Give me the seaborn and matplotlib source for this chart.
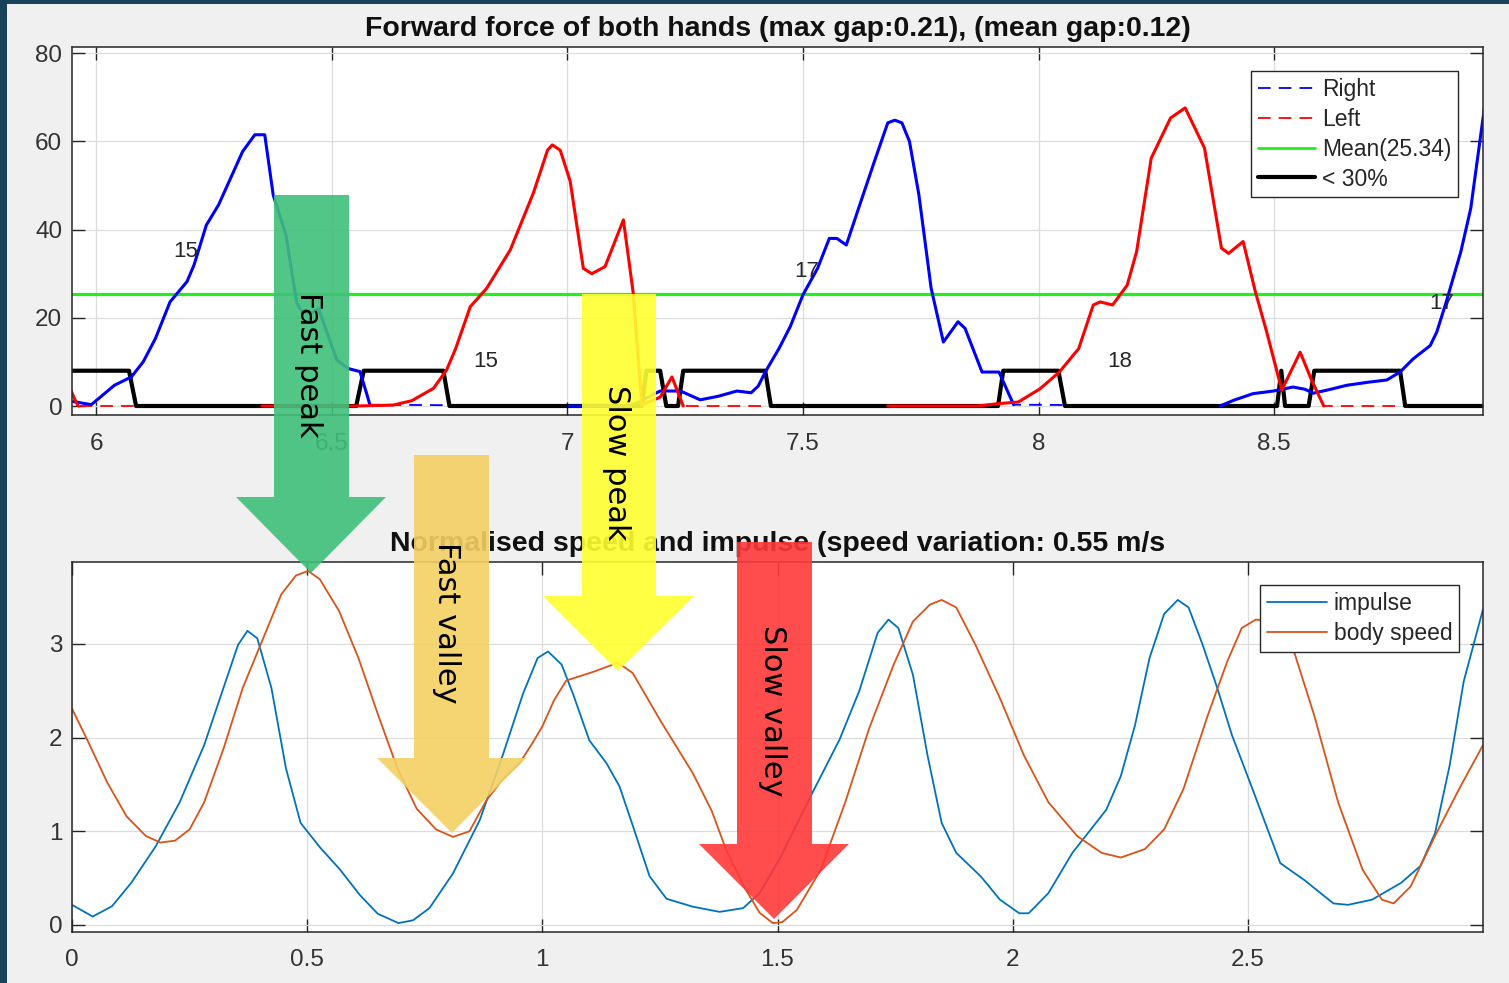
import numpy as np
import pandas as pd
import matplotlib
matplotlib.use("Agg")
import matplotlib.pyplot as plt
import seaborn as sns
from matplotlib.patches import Polygon, Rectangle
from matplotlib.lines import Line2D

# ---------------- data: top panel (forward force) ----------------
right_x1 = [5.952, 5.99, 6.039, 6.075, 6.10, 6.126, 6.157, 6.193, 6.208, 6.234, 6.26, 6.311, 6.337,
            6.358, 6.376, 6.403, 6.426, 6.437, 6.455, 6.472, 6.511, 6.535, 6.56, 6.574, 6.581]
right_y1 = [1.0, 0.3, 4.7, 6.6, 10.0, 15.3, 23.6, 28.2, 32.0, 41.0, 45.6, 57.7, 61.5,
            61.5, 47.8, 38.8, 23.3, 21.4, 21.0, 22.1, 10.4, 8.5, 7.8, 2.9, 0.3]
right_x2 = [7.004, 7.13, 7.155, 7.18, 7.197, 7.24, 7.282, 7.32, 7.36, 7.39, 7.405, 7.42, 7.449, 7.473,
            7.5, 7.531, 7.556, 7.572, 7.592, 7.623, 7.654, 7.68, 7.695, 7.71, 7.726, 7.746, 7.772,
            7.798, 7.829, 7.844, 7.88, 7.916, 7.947]
right_y2 = [0.0, 0.0, 1.0, 2.5, 3.4, 3.4, 1.4, 2.2, 3.4, 3.0, 4.5, 7.7, 13.0, 18.0,
            25.2, 31.2, 38.0, 38.0, 36.5, 46.4, 56.2, 64.2, 64.8, 64.2, 60.0, 47.9, 26.7,
            14.5, 19.1, 17.6, 7.7, 7.7, 0.3]
right_x3 = [8.385, 8.414, 8.455, 8.4985, 8.54, 8.565, 8.583, 8.62, 8.654, 8.7, 8.739, 8.767, 8.795,
            8.831, 8.845, 8.865, 8.896, 8.917, 8.946]
right_y3 = [0.0, 1.3, 2.8, 3.4, 4.3, 3.8, 2.9, 3.8, 4.7, 5.4, 5.9, 7.7, 10.7,
            13.7, 16.8, 23.6, 35.0, 44.8, 67.6]

left_x0 = [5.945, 5.955, 5.962]
left_y0 = [4.0, 1.5, 0.0]
left_x1 = [6.352, 6.45, 6.55, 6.63, 6.67, 6.716, 6.744, 6.763, 6.794, 6.829, 6.879, 6.928, 6.958,
           6.968, 6.985, 7.006, 7.034, 7.052, 7.08, 7.119, 7.14, 7.158, 7.197, 7.222, 7.246]
left_y1 = [0.0, 0.0, 0.0, 0.2, 1.2, 4.0, 8.2, 13.0, 22.5, 26.7, 35.4, 48.3, 58.0,
           59.2, 58.0, 51.0, 31.2, 30.0, 31.6, 42.2, 25.5, 0.2, 2.0, 6.6, 0.0]
left_x2 = [7.68, 7.87, 7.911, 7.957, 8.003, 8.044, 8.085, 8.116, 8.131, 8.157, 8.188, 8.208, 8.239,
           8.28, 8.311, 8.352, 8.388, 8.403, 8.434, 8.46, 8.484, 8.516, 8.555, 8.578, 8.605]
left_y2 = [0.0, 0.0, 0.5, 0.9, 3.9, 7.7, 13.0, 22.9, 23.6, 22.9, 27.4, 35.0, 56.2,
           65.3, 67.6, 58.5, 35.8, 34.6, 37.3, 25.9, 16.8, 3.6, 12.2, 6.2, 0.0]

low_x = [5.95, 6.07, 6.085, 6.552, 6.568, 6.737, 6.75, 7.158, 7.168, 7.197, 7.21, 7.235, 7.246,
         7.42, 7.432, 7.914, 7.925, 8.042, 8.056, 8.506, 8.515, 8.523, 8.573, 8.585, 8.767, 8.778, 8.943]
low_y = [8, 8, 0, 0, 8, 8, 0, 0, 8, 8, 0, 0, 8,
         8, 0, 0, 8, 8, 0, 0, 8, 0, 0, 8, 8, 0, 0]

mean_force = 25.34
stroke_counts = ["15", "15", "17", "18", "17"]
count_x = [6.19, 6.826, 7.507, 8.173, 8.855]
count_y = [35.0, 10.2, 30.4, 10.2, 23.3]

top_xticks = [6, 6.5, 7, 7.5, 8, 8.5]
top_xlabels = ["6", "6.5", "7", "7.5", "8", "8.5"]
top_yticks = [0, 20, 40, 60, 80]

# ---------------- data: bottom panel (speed / impulse) ----------------
imp_x = [0.0, 0.044, 0.085, 0.126, 0.178, 0.229, 0.281, 0.322, 0.353, 0.373, 0.394, 0.424, 0.455,
         0.486, 0.527, 0.57, 0.612, 0.65, 0.694, 0.725, 0.76, 0.81, 0.867, 0.917, 0.959, 0.99,
         1.012, 1.041, 1.065, 1.10, 1.136, 1.164, 1.193, 1.228, 1.264, 1.32, 1.377, 1.427, 1.462,
         1.504, 1.568, 1.632, 1.674, 1.713, 1.736, 1.757, 1.788, 1.819, 1.849, 1.88, 1.932, 1.973,
         2.014, 2.034, 2.076, 2.127, 2.199, 2.23, 2.26, 2.291, 2.322, 2.351, 2.374, 2.404, 2.435,
         2.466, 2.507, 2.569, 2.62, 2.682, 2.713, 2.764, 2.826, 2.867, 2.898, 2.929, 2.959, 3.0]
imp_y = [0.215, 0.09, 0.2, 0.45, 0.84, 1.31, 1.92, 2.53, 2.99, 3.14, 3.06, 2.53, 1.67,
         1.09, 0.83, 0.59, 0.32, 0.12, 0.02, 0.05, 0.18, 0.55, 1.12, 1.83, 2.47, 2.85,
         2.92, 2.78, 2.47, 1.97, 1.73, 1.48, 1.05, 0.52, 0.28, 0.195, 0.14, 0.18, 0.34,
         0.7, 1.35, 1.98, 2.5, 3.12, 3.26, 3.17, 2.67, 1.81, 1.09, 0.77, 0.52, 0.27,
         0.125, 0.125, 0.34, 0.77, 1.23, 1.59, 2.13, 2.85, 3.32, 3.47, 3.39, 2.99, 2.53,
         2.03, 1.49, 0.66, 0.48, 0.23, 0.215, 0.27, 0.45, 0.63, 0.98, 1.70, 2.6, 3.37]
spd_x = [0.0, 0.034, 0.075, 0.116, 0.157, 0.188, 0.219, 0.25, 0.281, 0.322, 0.363, 0.404, 0.445,
         0.476, 0.502, 0.527, 0.568, 0.609, 0.651, 0.692, 0.733, 0.774, 0.81, 0.845, 0.881, 0.915,
         0.952, 0.98, 1.0, 1.025, 1.051, 1.107, 1.161, 1.192, 1.22, 1.25, 1.32, 1.36, 1.391, 1.43,
         1.462, 1.49, 1.51, 1.541, 1.592, 1.644, 1.695, 1.747, 1.788, 1.824, 1.849, 1.88, 1.921,
         1.973, 2.024, 2.076, 2.137, 2.189, 2.23, 2.281, 2.322, 2.363, 2.415, 2.456, 2.487, 2.517,
         2.558, 2.6, 2.641, 2.692, 2.744, 2.785, 2.81, 2.846, 2.898, 2.949, 3.0]
spd_y = [2.31, 1.96, 1.52, 1.16, 0.95, 0.88, 0.90, 1.02, 1.31, 1.88, 2.53, 3.03, 3.53,
         3.73, 3.78, 3.69, 3.35, 2.85, 2.24, 1.67, 1.24, 1.02, 0.94, 1.0, 1.33, 1.55,
         1.73, 1.95, 2.12, 2.4, 2.61, 2.70, 2.80, 2.69, 2.45, 2.19, 1.62, 1.22, 0.8, 0.4,
         0.13, 0.02, 0.03, 0.16, 0.59, 1.31, 2.10, 2.78, 3.24, 3.42, 3.47, 3.39, 2.99,
         2.42, 1.81, 1.31, 0.95, 0.77, 0.72, 0.81, 1.02, 1.45, 2.24, 2.81, 3.17, 3.26,
         3.24, 2.89, 2.24, 1.31, 0.59, 0.27, 0.23, 0.41, 0.95, 1.45, 1.92]

bot_xticks = [0, 0.5, 1, 1.5, 2, 2.5]
bot_xlabels = ["0", "0.5", "1", "1.5", "2", "2.5"]
bot_yticks = [0, 1, 2, 3]

# annotation arrows (figure pixels): shaft l, r, top, shoulder, head l, r, tip x, tip y
arrow_specs = [
    ("Fast peak",   "#3fc07a", (274, 349, 195, 497, 236, 386, 311, 573), (309, 365)),
    ("Fast valley", "#f4d063", (414, 489, 455, 758, 377, 526, 452, 833), (447, 623)),
    ("Slow peak",   "#ffff30", (582, 656, 294, 596, 543, 694, 618, 671), (616, 463)),
    ("Slow valley", "#ff3838", (737, 812, 542, 844, 699, 849, 774, 919), (772, 711)),
]

# ---------------- figure ----------------
sns.set_theme(style="whitegrid")
plt.rcParams['font.family'] = ['Liberation Sans', 'DejaVu Sans']

W, H = 1509, 983
fig = plt.figure(figsize=(W / 100, H / 100), dpi=100)
fig.patch.set_facecolor('#17425a')
fig.add_artist(Rectangle((7 / W, 0), 1, 1 - 4 / H, transform=fig.transFigure,
                         facecolor='#f0f0f0', edgecolor='none', zorder=-10))

ax1 = fig.add_axes([72 / W, 1 - 415 / H, (1483 - 72) / W, (415 - 47) / H])
ax2 = fig.add_axes([72 / W, 1 - 932 / H, (1483 - 72) / W, (932 - 562) / H])


def style(ax, xpad):
    ax.set_facecolor('white')
    for s in ax.spines.values():
        s.set_visible(True)
        s.set_color('#262626')
        s.set_linewidth(1.1)
        s.set_zorder(6)
    ax.grid(True, color='#dcdcdc', linewidth=0.9)
    ax.set_axisbelow(True)
    ax.tick_params(direction='in', length=9.5, width=1.0, color='#262626',
                   top=True, right=True, bottom=True, left=True,
                   labelsize=17.5, labelcolor='#333333')
    ax.tick_params(axis='x', pad=xpad)
    ax.tick_params(axis='y', pad=7)
    ax.set_xlabel('')
    ax.set_ylabel('')


def line(ax, x, y, **kw):
    sns.lineplot(x=x, y=y, ax=ax, estimator=None, sort=False, legend=False, **kw)


# full series (strokes joined by their inactive zero stretch) drawn dashed
right_full_x = right_x1 + right_x2 + right_x3
right_full_y = right_y1 + right_y2 + right_y3
left_full_x = left_x0 + left_x1 + left_x2 + [8.943]
left_full_y = left_y0 + left_y1 + left_y2 + [0.0]
dash = (0, (7, 4.5))
line(ax1, right_full_x, right_full_y, color='#0000ff', linewidth=1.3, linestyle=dash, zorder=2)
line(ax1, left_full_x, left_full_y, color='#ff0000', linewidth=1.3, linestyle=dash, zorder=2)
line(ax1, [5.949, 8.943], [mean_force, mean_force], color='#22ee22', linewidth=2.3, zorder=2.5)
line(ax1, low_x, low_y, color='black', linewidth=3.0, zorder=3)
for sx, sy in [(right_x1, right_y1), (right_x2, right_y2), (right_x3, right_y3)]:
    line(ax1, sx, sy, color='#0000ff', linewidth=2.2, zorder=4)
for sx, sy in [(left_x0, left_y0), (left_x1, left_y1), (left_x2, left_y2)]:
    line(ax1, sx, sy, color='#ff0000', linewidth=2.2, zorder=4)
for t, tx, ty in zip(stroke_counts, count_x, count_y):
    ax1.text(tx, ty, t, ha='center', va='center', fontsize=16, color='#262626', zorder=5)

style(ax1, 13)
ax1.set_xlim(5.949, 8.943)
ax1.set_ylim(-2.04, 81.4)
ax1.set_xticks(top_xticks)
ax1.set_xticklabels(top_xlabels)
ax1.set_yticks(top_yticks)
ax1.set_title('Forward force of both hands (max gap:0.21), (mean gap:0.12)',
              fontsize=20.5, fontweight='bold', pad=8, color='#111111')
h1 = [Line2D([], [], color='#0000ff', lw=1.3, ls=dash),
      Line2D([], [], color='#ff0000', lw=1.3, ls=dash),
      Line2D([], [], color='#22ee22', lw=2.0),
      Line2D([], [], color='black', lw=3.0)]
leg1 = ax1.legend(h1, ['Right', 'Left', 'Mean(25.34)', '< 30%'], loc='upper right',
                  bbox_to_anchor=(1 - 25 / 1411, 1 - 24 / 368), borderaxespad=0,
                  fontsize=16.5, frameon=True, fancybox=False, framealpha=1,
                  edgecolor='#262626', handlelength=2.5, handletextpad=0.3,
                  labelspacing=0.3, borderpad=0.3)
leg1.get_frame().set_linewidth(1.0)
leg1.set_zorder(7)

line(ax2, imp_x, imp_y, color='#0072bd', linewidth=1.3, zorder=3)
line(ax2, spd_x, spd_y, color='#d95319', linewidth=1.3, zorder=3)
style(ax2, 12)
ax2.set_xlim(0, 3.0)
ax2.set_ylim(-0.075, 3.875)
ax2.set_xticks(bot_xticks)
ax2.set_xticklabels(bot_xlabels)
ax2.set_yticks(bot_yticks)
ax2.set_title('Normalised speed and impulse (speed variation: 0.55 m/s',
              fontsize=20.5, fontweight='bold', pad=8, color='#111111')
h2 = [Line2D([], [], color='#0072bd', lw=1.3), Line2D([], [], color='#d95319', lw=1.3)]
leg2 = ax2.legend(h2, ['impulse', 'body speed'], loc='upper right',
                  bbox_to_anchor=(1 - 24 / 1411, 1 - 23 / 370), borderaxespad=0,
                  fontsize=16.5, frameon=True, fancybox=False, framealpha=1,
                  edgecolor='#262626', handlelength=2.6, handletextpad=0.3,
                  labelspacing=0.3, borderpad=0.3)
leg2.get_frame().set_linewidth(1.0)
leg2.set_zorder(7)

# annotation arrows over both panels
for label, col, (sl, sr, top, sh, hl, hr, tx, ty), (lx, ly) in arrow_specs:
    pts = [(sl, top), (sr, top), (sr, sh), (hr, sh), (tx, ty), (hl, sh), (sl, sh)]
    pts = [(px / W, 1 - py / H) for px, py in pts]
    fig.add_artist(Polygon(pts, closed=True, transform=fig.transFigure,
                           facecolor=col, edgecolor='none', alpha=0.9, zorder=10))
    fig.text(lx / W, 1 - ly / H, label, rotation=270, ha='center', va='center',
             fontsize=22, color='black', family=['DejaVu Sans'], zorder=11)

fig.savefig('out.png', dpi=100, facecolor=fig.get_facecolor())
